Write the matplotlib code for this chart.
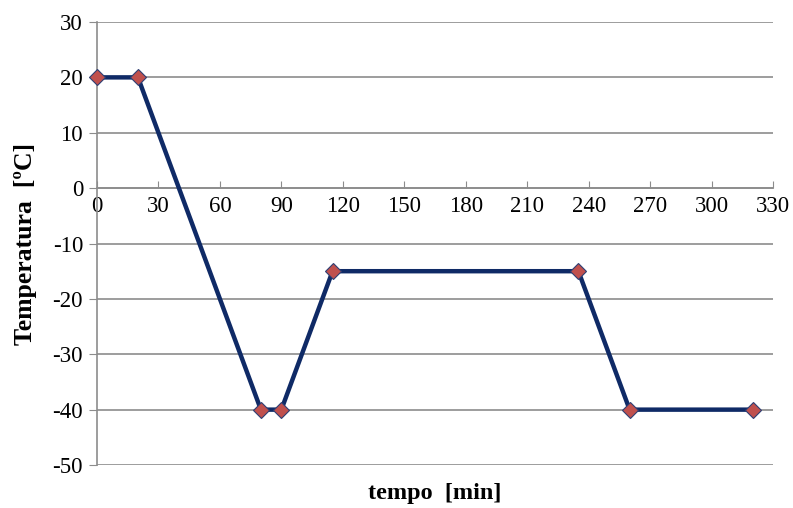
import matplotlib.pyplot as plt

# temperature profile
tempo = [0, 20, 80, 90, 115, 235, 260, 320]
temperatura = [20, 20, -40, -40, -15, -15, -40, -40]
x_ticks = list(range(0, 331, 30))
y_ticks = list(range(-50, 31, 10))

plt.rcParams["font.family"] = ["Liberation Serif", "DejaVu Serif"]
plt.rcParams["axes.unicode_minus"] = False

fig = plt.figure(figsize=(7.93, 5.08), dpi=100)
ax = fig.add_axes([0.1223, 0.0846, 0.8525, 0.8721])

ax.plot(tempo, temperatura, color="#0F2A66", lw=3.2, marker="D", ms=8,
        mfc="#C0504D", mec="#2E3F73", mew=0.8, zorder=3, clip_on=False)

ax.set_xlim(0, 330)
ax.set_ylim(-50, 30)
ax.set_xticks(x_ticks)
ax.set_yticks(y_ticks)

ax.spines["top"].set_visible(False)
ax.spines["right"].set_visible(False)
ax.spines["bottom"].set_position(("data", 0))
for s in ["left", "bottom"]:
    ax.spines[s].set_color("#8C8C8C")
    ax.spines[s].set_linewidth(1.2)

ax.grid(axis="y", color="#8C8C8C", lw=1.2)
ax.set_axisbelow(True)
ax.tick_params(axis="x", direction="in", length=5, color="#8C8C8C",
               labelsize=16.5, pad=6)
ax.tick_params(axis="y", direction="out", length=6, color="#8C8C8C",
               labelsize=16.5, pad=4)

ax.set_xlabel("tempo  [min]", fontsize=17.5, fontweight="bold")
ax.xaxis.set_label_coords(0.5, -0.04)
ax.set_ylabel("Temperatura  [ºC]", fontsize=18.5, fontweight="bold")
ax.yaxis.set_label_coords(-0.088, 0.5)

fig.savefig("out.png", dpi=100)
